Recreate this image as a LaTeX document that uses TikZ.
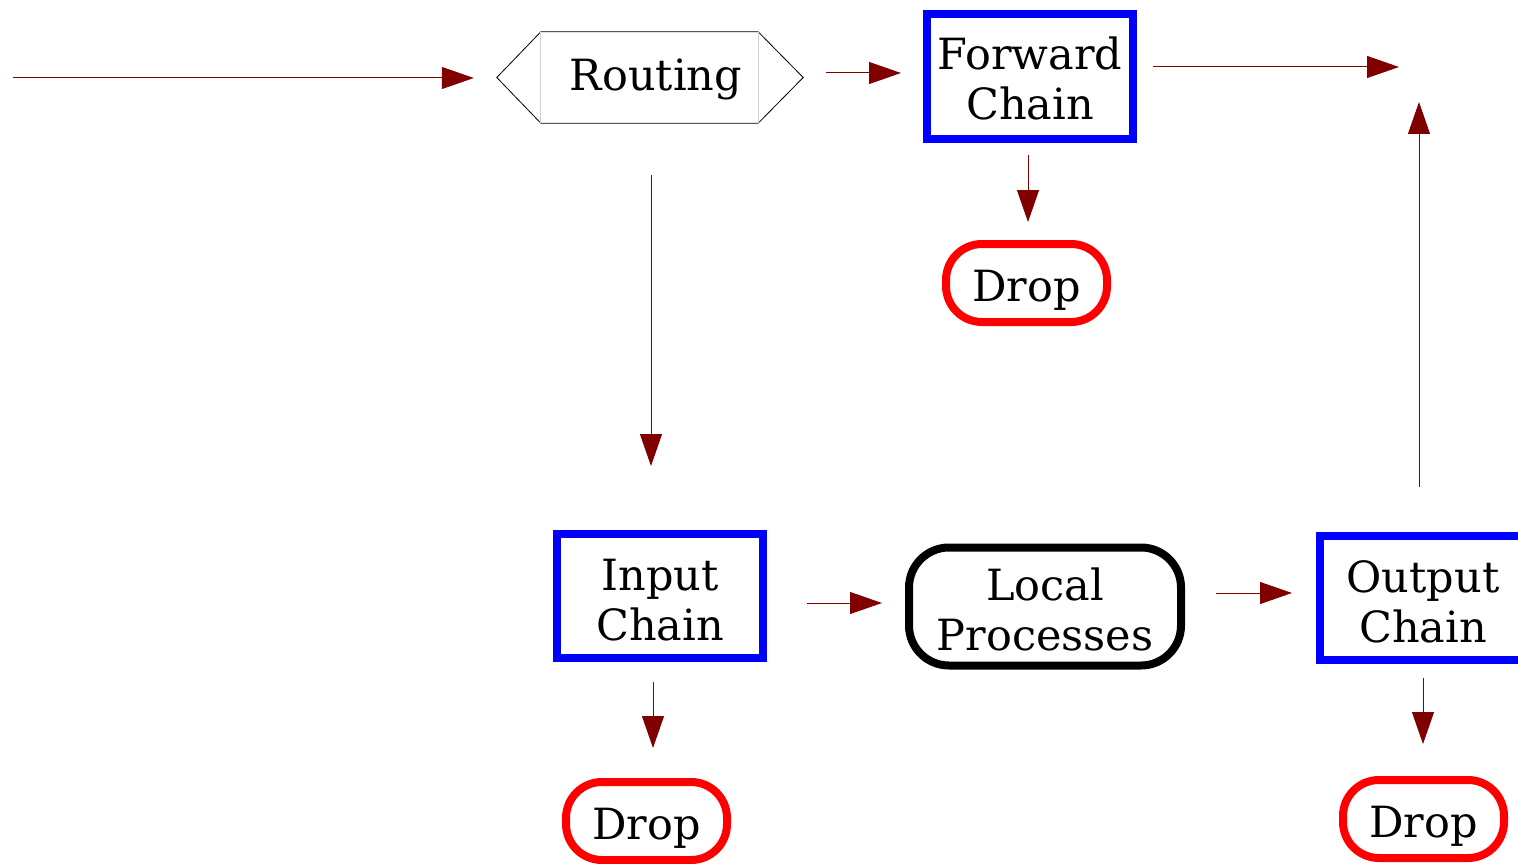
\documentclass[tikz,border=0pt]{standalone}
\usepackage{fontspec}
\setmainfont{DejaVu Serif}
\usetikzlibrary{arrows.meta}
\definecolor{flowred}{HTML}{800000}
% box labels sit slightly below the box centre: pad the top of the label box
\newcommand{\boxtext}[2][17pt]{\raisebox{0pt}[\dimexpr\height+#1\relax][\depth]{\begin{tabular}{@{}c@{}}#2\end{tabular}}}
\begin{document}
\begin{tikzpicture}[x=1pt,y=-1pt,
  font=\fontsize{43}{50}\selectfont,
  chainbox/.style={draw=blue, line width=8pt, minimum width=206pt,
    minimum height=124pt, inner sep=0pt},
  dropbox/.style={draw=red, line width=8pt, rounded corners=36pt,
    minimum width=161pt, minimum height=78pt, inner sep=0pt},
  procbox/.style={draw=black, line width=8pt, rounded corners=40pt,
    minimum width=272pt, minimum height=115pt, inner sep=0pt},
  decision/.style={minimum width=306pt, minimum height=91pt, inner sep=0pt},
  flow/.style={draw=flowred, line width=1pt,
    -{Triangle[length=32pt,width=22pt]}}]
\useasboundingbox (0,0) rectangle (1518,864);

% nodes
\node[decision] (routing) at (650,77.5) {\hspace*{12pt}\boxtext[6pt]{Routing}};
\draw[line width=0.8pt] (routing.west) -- ([xshift=44pt]routing.north west)
  -- ([xshift=-45pt]routing.north east) -- (routing.east)
  -- ([xshift=-45pt]routing.south east) -- ([xshift=44pt]routing.south west)
  -- cycle;
\draw[gray!35, line width=1pt] ([xshift=44pt]routing.north west) -- ([xshift=44pt]routing.south west);
\draw[gray!35, line width=1pt] ([xshift=-45pt]routing.north east) -- ([xshift=-45pt]routing.south east);

\node[chainbox, minimum height=125pt] (fwd) at (1030,76.5) {\boxtext{Forward\\Chain}};
\node[dropbox] (dropF) at (1026.5,283) {\boxtext[16pt]{Drop}};
\node[chainbox] (input) at (660,596) {\boxtext[18pt]{Input\\Chain}};
\node[procbox] (local) at (1045,606.5) {\boxtext[18pt]{Local\\Processes}};
\node[chainbox] (output) at (1423,598) {\boxtext[18pt]{Output\\Chain}};
\node[dropbox] (dropI) at (646.5,821) {\boxtext[16pt]{Drop}};
\node[dropbox] (dropO) at (1423.5,819) {\boxtext[16pt]{Drop}};

% free ends
\coordinate (src) at (13,78);
\coordinate (exitR) at (1399,67);
\coordinate (exitU) at (1419,102);

% connectors
\draw[flow, shorten >=23pt] (src) -- (routing.west |- src);
\draw[flow, shorten <=23pt, shorten >=22pt]
  ([yshift=4.5pt]routing.east) -- ([yshift=4.5pt]routing.east -| fwd.west);
\draw[flow, shorten <=16pt] ([yshift=9.5pt]fwd.east) -- (exitR);
\draw[flow, shorten <=12pt, shorten >=18pt]
  ([xshift=-2pt]fwd.south) -- ([xshift=-2pt]fwd.south |- dropF.north);
\draw[flow, shorten <=52pt, shorten >=64pt]
  ([xshift=1pt]routing.south) -- ([xshift=1pt]routing.south |- input.north);
\draw[flow, shorten <=40pt, shorten >=23pt]
  ([yshift=-7pt]input.east) -- ([yshift=-7pt]input.east -| local.west);
\draw[flow, shorten <=31pt, shorten >=24pt]
  ([yshift=13.5pt]local.east) -- ([yshift=13.5pt]local.east -| output.west);
\draw[flow, shorten <=45pt] ([xshift=-4pt]output.north) -- (exitU);
\draw[flow, shorten <=20pt, shorten >=30pt]
  ([xshift=-7pt]input.south) -- ([xshift=-7pt]input.south |- dropI.north);
\draw[flow, shorten <=14pt, shorten >=32pt]
  (output.south) -- (output.south |- dropO.north);
\end{tikzpicture}
\end{document}
